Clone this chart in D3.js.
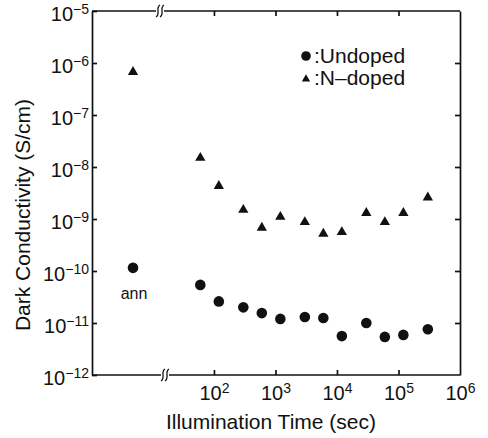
<!DOCTYPE html>
<html>
<head>
<meta charset="utf-8">
<script src="https://cdn.jsdelivr.net/npm/d3@7"></script>
<style>
  body { margin: 0; background: #fff; }
  svg { display: block; font-family: "Liberation Sans", Arial, Helvetica, sans-serif; }
</style>
</head>
<body>
<div id="chart"></div>
<script>
// illumination times (sec) and dark conductivity (S/cm)
const times = [60, 120, 300, 600, 1200, 3000, 6000, 12000, 30000, 60000, 120000, 300000];
const undoped = [5.4e-11, 2.6e-11, 2.0e-11, 1.55e-11, 1.2e-11, 1.3e-11, 1.25e-11, 5.6e-12, 1.0e-11, 5.4e-12, 5.9e-12, 7.6e-12];
const nDoped = [1.5e-8, 4.3e-9, 1.5e-9, 6.8e-10, 1.1e-9, 8.7e-10, 5.2e-10, 5.6e-10, 1.3e-9, 8.7e-10, 1.3e-9, 2.6e-9];
// annealed state (left of the axis break)
const annLabel = "ann";
const annUndoped = 1.15e-10;
const annNDoped = 6.7e-7;

const xTickExps = [2, 3, 4, 5, 6];
const yTickExps = [-12, -11, -10, -9, -8, -7, -6, -5];

const totalW = 488, totalH = 438;
const margin = {top: 11, right: 28, bottom: 63, left: 92};
const width = totalW - margin.left - margin.right;
const height = totalH - margin.top - margin.bottom;
const breakX = 73;   // where the log part of the x axis starts

const svg = d3.select('#chart').append('svg')
    .attr('width', totalW)
    .attr('height', totalH);

const g = svg.append('g')
    .attr('transform', `translate(${margin.left},${margin.top})`);

// scales
const xAnn = d3.scalePoint()
    .domain([annLabel])
    .range([0, breakX + 9])
    .padding(0.5);

const x = d3.scaleLog()
    .domain([16, 1e6])
    .range([breakX, width]);

const y = d3.scaleLog()
    .domain([1e-12, 1e-5])
    .range([height, 0]);

const xTicks = xTickExps.map(e => Math.pow(10, e));
const yTicks = yTickExps.map(e => Math.pow(10, e));

// superscript labels like 10^-8
function powLabel(sel, exps) {
    sel.each(function(d, i) {
        const t = d3.select(this).text(null);
        t.append('tspan').text('10');
        t.append('tspan')
            .attr('dy', '-0.5em')
            .style('font-size', '14px')
            .text(String(exps[i]).replace('-', '\u2212'));
    });
}

// axes: ticks point inward
const axisOpts = a => a.tickSizeInner(-5).tickSizeOuter(0).tickFormat(() => '');

const leftAxis = g.append('g')
    .call(axisOpts(d3.axisLeft(y).tickValues(yTicks)).tickPadding(3));
const rightAxis = g.append('g')
    .attr('transform', `translate(${width},0)`)
    .call(axisOpts(d3.axisRight(y).tickValues(yTicks.slice(1, -1))));
const bottomAxis = g.append('g')
    .attr('transform', `translate(0,${height})`)
    .call(axisOpts(d3.axisBottom(x).tickValues(xTicks)).tickPadding(11));
const topAxis = g.append('g')
    .call(axisOpts(d3.axisTop(x).tickValues(xTicks.slice(0, -1))));

// axis lines over the full width (including the "ann" part)
bottomAxis.select('.domain').attr('d', `M0,0H${width}`);
topAxis.select('.domain').attr('d', `M0,0H${width}`);
rightAxis.selectAll('.tick text').remove();
topAxis.selectAll('.tick text').remove();
bottomAxis.selectAll('.tick').filter(d => d === 1e6).select('line').remove();

g.selectAll('.domain, .tick line')
    .attr('stroke', '#111')
    .attr('stroke-width', 1.7);

leftAxis.selectAll('.tick text')
    .style('font-size', '20px')
    .attr('fill', '#111')
    .attr('dy', '0.45em')
    .call(powLabel, yTickExps);

bottomAxis.selectAll('.tick text')
    .style('font-size', '20px')
    .attr('fill', '#111')
    .call(powLabel, xTickExps);

// axis break marks
function axisBreak(cx, cy) {
    g.append('rect')
        .attr('x', cx - 4).attr('y', cy - 2)
        .attr('width', 8).attr('height', 4)
        .attr('fill', '#fff');
    [-2, 2].forEach(off => {
        g.append('path')
            .attr('d', `M${cx + off - 2},${cy + 6} C${cx + off + 3},${cy + 3} ${cx + off - 3},${cy - 3} ${cx + off + 2},${cy - 6}`)
            .attr('fill', 'none')
            .attr('stroke', '#111')
            .attr('stroke-width', 1.3);
    });
}
axisBreak(breakX - 5, 0);
axisBreak(breakX, height);

// data points
const undopedPts = times.map((t, i) => ({x: x(t), y: y(undoped[i])}));
const nDopedPts = times.map((t, i) => ({x: x(t), y: y(nDoped[i])}));
undopedPts.push({x: xAnn(annLabel), y: y(annUndoped)});
nDopedPts.push({x: xAnn(annLabel), y: y(annNDoped)});

g.selectAll('.dot')
    .data(undopedPts)
    .enter().append('circle')
    .attr('class', 'dot')
    .attr('cx', d => d.x)
    .attr('cy', d => d.y)
    .attr('r', 5.3)
    .attr('fill', '#111');

const tri = d3.symbol().type(d3.symbolTriangle).size(46);
g.selectAll('.tri')
    .data(nDopedPts)
    .enter().append('path')
    .attr('class', 'tri')
    .attr('transform', d => `translate(${d.x},${d.y})`)
    .attr('d', tri)
    .attr('fill', '#111');

// "ann" label under the annealed point
g.append('text')
    .attr('x', xAnn(annLabel) + 1)
    .attr('y', y(annUndoped) + 31)
    .attr('text-anchor', 'middle')
    .style('font-size', '16px')
    .attr('fill', '#111')
    .text('ann');

// legend
const legend = g.append('g')
    .attr('transform', `translate(${width - 154},${y(1e-6) - 7})`);
legend.append('circle')
    .attr('cx', 0).attr('cy', 0).attr('r', 4.8)
    .attr('fill', '#111');
legend.append('path')
    .attr('transform', 'translate(0,23)')
    .attr('d', d3.symbol().type(d3.symbolTriangle).size(30))
    .attr('fill', '#111');
legend.selectAll('.leg')
    .data([':Undoped', ':N\u2013doped'])
    .enter().append('text')
    .attr('x', 8)
    .attr('y', (d, i) => 7 + i * 22)
    .style('font-size', '21px')
    .attr('fill', '#111')
    .text(d => d);

// axis titles
svg.append('text')
    .attr('x', margin.left + x(1e4) - 66)
    .attr('y', 429)
    .attr('text-anchor', 'middle')
    .style('font-size', '21px')
    .attr('fill', '#111')
    .text('Illumination Time (sec)');

svg.append('text')
    .attr('transform', `translate(30,${margin.top + height / 2 + 22}) rotate(-90)`)
    .attr('text-anchor', 'middle')
    .style('font-size', '21px')
    .attr('fill', '#111')
    .text('Dark Conductivity (S/cm)');
</script>
</body>
</html>
